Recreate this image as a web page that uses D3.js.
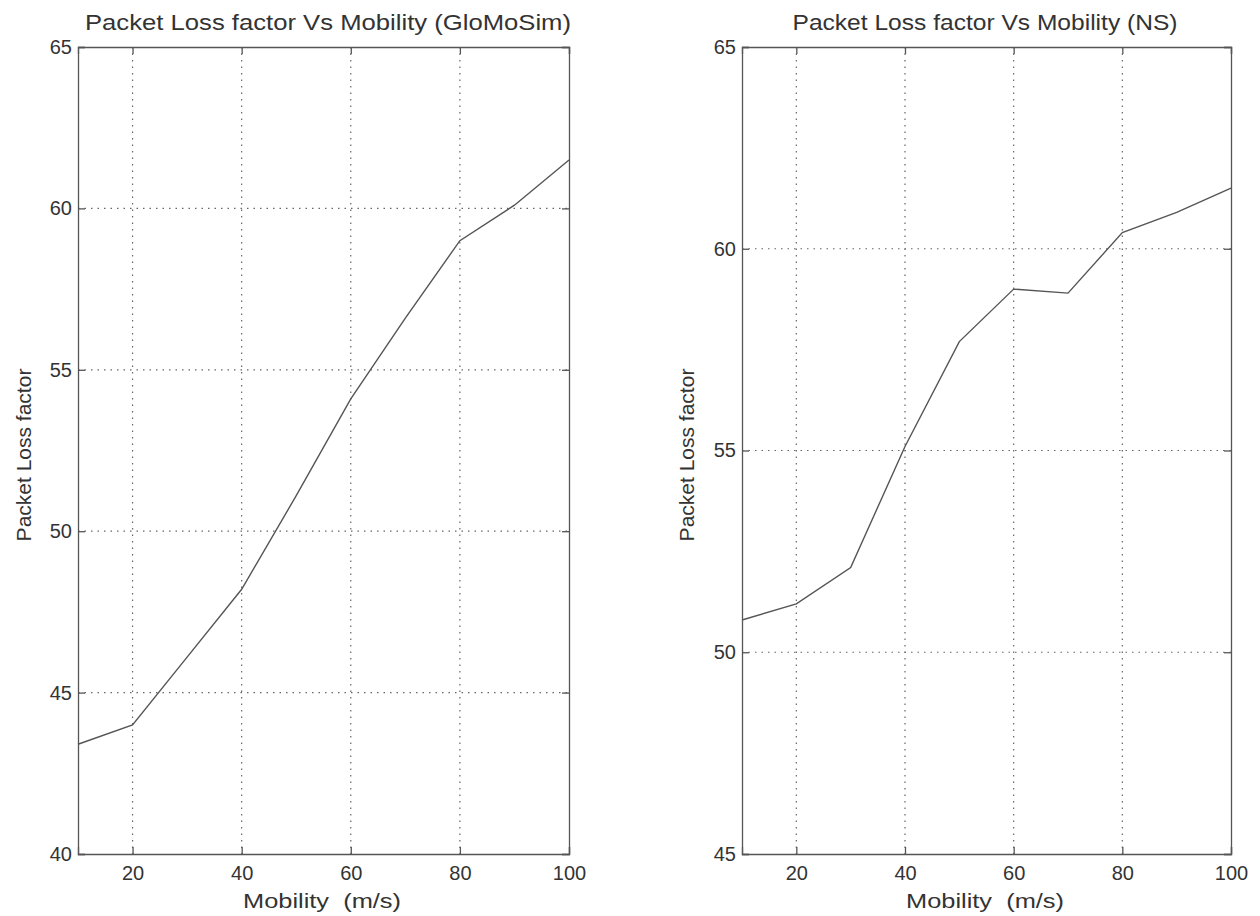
<!DOCTYPE html>
<html><head><meta charset="utf-8">
<script src="https://cdn.jsdelivr.net/npm/d3@7"></script>
<style>body{margin:0;background:#fff}svg{display:block}</style>
</head><body>
<svg id="c" width="1260" height="916"></svg>
<script>
const mobility = [10,20,30,40,50,60,70,80,90,100];
const glomosim = [43.4,44.0,46.1,48.2,51.1,54.1,56.6,59.0,60.1,61.5];
const ns = [50.8,51.2,52.1,55.1,57.7,59.0,58.9,60.4,60.9,61.5];
const xTicks = [20,40,60,80,100];
const yTicksLeft = [40,45,50,55,60,65];
const yTicksRight = [45,50,55,60,65];

const svg = d3.select("#c");
const font = "Liberation Sans, Arial, sans-serif";

function panel(cfg){
  const x = d3.scaleLinear().domain([10,100]).range([cfg.x0,cfg.x1]);
  const y = d3.scaleLinear().domain(cfg.yd).range([854,47]);
  const g = svg.append("g");
  // grid
  g.selectAll(".vg").data(xTicks.filter(t=>t<100)).join("line")
    .attr("x1",d=>x(d)).attr("x2",d=>x(d)).attr("y1",y.range()[1]).attr("y2",y.range()[0])
    .attr("stroke","#666").attr("stroke-width",1.2).attr("stroke-dasharray","1.5,5");
  g.selectAll(".hg").data(cfg.yt.filter(t=>t>cfg.yd[0]&&t<cfg.yd[1])).join("line")
    .attr("y1",d=>y(d)).attr("y2",d=>y(d)).attr("x1",cfg.x0).attr("x2",cfg.x1)
    .attr("stroke","#666").attr("stroke-width",1.2).attr("stroke-dasharray","1.5,5");
  // axes
  const ax = d3.axisBottom(x).tickValues(xTicks).tickSize(-7).tickPadding(12);
  g.append("g").attr("transform",`translate(0,${y(cfg.yd[0])})`).call(ax);
  const ay = d3.axisLeft(y).tickValues(cfg.yt).tickSize(-7).tickPadding(6);
  g.append("g").attr("transform",`translate(${cfg.x0},0)`).call(ay);
  const ayR = d3.axisRight(y).tickValues(cfg.yt).tickSize(-7).tickFormat("");
  g.append("g").attr("transform",`translate(${cfg.x1},0)`).call(ayR);
  const axT = d3.axisTop(x).tickValues(xTicks).tickSize(-7).tickFormat("");
  g.append("g").attr("transform",`translate(0,${y(cfg.yd[1])})`).call(axT);
  g.selectAll(".domain").attr("stroke","#555").attr("stroke-width",1.3);
  g.selectAll(".tick line").attr("stroke","#555").attr("stroke-width",1.3);
  g.selectAll(".tick text").attr("font-family",font).attr("font-size",20).attr("fill","#333");
  // line
  const line = d3.line().x((d,i)=>x(mobility[i])).y(d=>y(d));
  g.append("path").datum(cfg.data).attr("d",line).attr("fill","none").attr("stroke","#555").attr("stroke-width",1.4);
  // labels
  g.append("text").attr("x",cfg.tcx).attr("y",30).attr("text-anchor","middle")
    .attr("font-family",font).attr("font-size",22).attr("fill","#333")
    .attr("textLength",cfg.tw).attr("lengthAdjust","spacingAndGlyphs").text(cfg.title);
  g.append("text").attr("x",cfg.xlx).attr("y",908).attr("text-anchor","middle")
    .attr("font-family",font).attr("font-size",21).attr("fill","#333").attr("xml:space","preserve")
    .attr("textLength",158).attr("lengthAdjust","spacingAndGlyphs").text("Mobility  (m/s)");
  g.append("text").attr("transform",`translate(${cfg.ylx},455) rotate(-90)`).attr("text-anchor","middle")
    .attr("font-family",font).attr("font-size",21).attr("fill","#333").text("Packet Loss factor");
}
panel({x0:78,x1:569,yd:[40,65],yt:yTicksLeft,data:glomosim,title:"Packet Loss factor Vs Mobility (GloMoSim)",tcx:328,tw:486,xlx:322,ylx:31});
panel({x0:742,x1:1231,yd:[45,65],yt:yTicksRight,data:ns,title:"Packet Loss factor Vs Mobility (NS)",tcx:985,tw:385,xlx:985,ylx:694});
</script>
</body></html>
